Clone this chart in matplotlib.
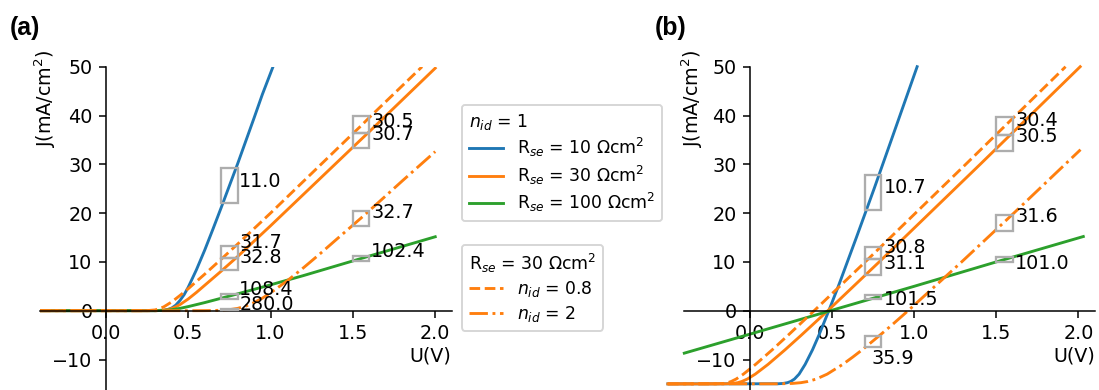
import matplotlib
matplotlib.use("Agg")
import matplotlib.pyplot as plt
from matplotlib.patches import Rectangle
from matplotlib.lines import Line2D

# ---------------- data ----------------
# Panel (a): dark J-V curves
Va_blue = [-0.4, 0.30, 0.35, 0.375, 0.40, 0.425, 0.45, 0.475, 0.50, 0.55, 0.60, 0.65, 0.70, 0.75, 0.80, 0.85, 0.90, 0.95, 1.015]
Ja_blue = [0.0, 0.01, 0.1, 0.235, 0.55, 1.15, 2.1, 3.27, 4.8, 8.4, 12.4, 16.7, 21.1, 25.6, 30.1, 34.8, 39.5, 44.3, 50.0]

Va_or = [-0.4, 0.25, 0.30, 0.35, 0.375, 0.40, 0.425, 0.45, 0.50, 0.55, 0.60, 0.70, 0.75, 0.80, 1.0, 1.5, 1.55, 1.6, 2.0]
Ja_or = [0.0, 0.005, 0.02, 0.1, 0.22, 0.45, 0.8, 1.25, 2.4, 3.75, 5.2, 8.1, 9.6, 11.1, 17.4, 33.5, 35.1, 36.7, 49.7]

Va_or08 = [-0.4, 0.20, 0.25, 0.30, 0.35, 0.40, 0.45, 0.50, 0.55, 0.60, 0.70, 0.75, 0.80, 1.0, 1.5, 1.55, 1.6, 1.92]
Ja_or08 = [0.0, 0.001, 0.016, 0.16, 0.76, 1.8, 3.12, 4.5, 6.0, 7.48, 10.54, 12.1, 13.65, 20.0, 36.3, 37.9, 39.6, 50.0]

Va_or2 = [-0.4, 0.55, 0.60, 0.65, 0.70, 0.75, 0.80, 0.85, 0.90, 0.95, 1.0, 1.1, 1.2, 1.3, 1.4, 1.55, 1.6, 1.8, 2.0]
Ja_or2 = [0.0, 0.005, 0.013, 0.034, 0.09, 0.21, 0.47, 0.95, 1.67, 2.56, 3.65, 6.1, 8.8, 11.65, 14.6, 19.0, 20.5, 26.6, 32.6]

Va_gr = [-0.4, 0.30, 0.35, 0.40, 0.45, 0.50, 0.60, 0.70, 0.75, 0.80, 1.0, 1.2, 1.5, 1.55, 1.6, 2.0]
Ja_gr = [0.0, 0.01, 0.055, 0.2, 0.48, 0.84, 1.66, 2.55, 3.0, 3.45, 5.3, 7.2, 10.2, 10.7, 11.2, 15.15]

# Panel (b): illuminated J-V curves
Vb_blue = [-0.5, 0.171, 0.203, 0.228, 0.248, 0.271, 0.299, 0.336, 0.381, 0.420, 0.480, 0.538, 0.648, 0.756, 0.861, 1.018]
Jb_blue = [-15.0, -14.97, -14.9, -14.75, -14.5, -14.0, -13.0, -11.0, -8.0, -5.0, 0.0, 5.0, 15.0, 25.0, 35.0, 50.0]

Vb_or = [-0.5, -0.146, -0.102, -0.074, -0.049, -0.016, 0.032, 0.110, 0.214, 0.313, 0.474, 0.787, 1.402, 2.011]
Jb_or = [-15.0, -14.98, -14.9, -14.75, -14.5, -14.0, -13.0, -11.0, -8.0, -5.0, 0.0, 10.0, 30.0, 50.0]

Vb_or08 = [-0.5, -0.194, -0.159, -0.135, -0.114, -0.084, -0.040, 0.034, 0.136, 0.233, 0.391, 0.702, 1.314, 1.922]
Jb_or08 = [-15.0, -14.98, -14.9, -14.75, -14.5, -14.0, -13.0, -11.0, -8.0, -5.0, 0.0, 10.0, 30.0, 50.0]

Vb_or2 = [-0.5, 0.173, 0.259, 0.310, 0.353, 0.404, 0.470, 0.565, 0.626, 0.684, 0.792, 0.862, 0.963, 1.289, 1.607, 2.013]
Jb_or2 = [-15.0, -14.98, -14.9, -14.75, -14.5, -14.0, -13.0, -11.0, -9.5, -8.0, -5.0, -3.0, 0.0, 10.0, 20.0, 33.0]

Vb_gr = [-0.40, 0.0, 0.49, 1.0, 1.5, 2.03]
Jb_gr = [-8.7, -4.8, 0.0, 5.0, 10.0, 15.2]

# Gray boxes: (V start, J bottom, J top) ; width 0.1 V
box_v0_a = [0.7, 0.7, 0.7, 0.7, 0.7, 1.5, 1.5, 1.5, 1.5]
box_j0_a = [22.0, 10.9, 8.3, 2.5, 0.05, 36.5, 33.3, 17.4, 10.2]
box_j1_a = [29.2, 13.3, 10.9, 3.4, 0.45, 39.8, 36.5, 20.5, 11.2]
lab_a = ["11.0", "31.7", "32.8", "108.4", "280.0", "30.5", "30.7", "32.7", "102.4"]
lab_x_a = [0.81, 0.81, 0.81, 0.81, 0.81, 1.61, 1.61, 1.61, 1.61]
lab_y_a = [25.3, 12.8, 9.7, 3.3, 0.2, 37.6, 35.0, 19.0, 11.0]

box_v0_b = [0.7, 0.7, 0.7, 0.7, 0.7, 1.5, 1.5, 1.5, 1.5]
box_j0_b = [20.6, 10.5, 7.3, 2.3, -7.4, 36.1, 32.7, 16.4, 9.9]
box_j1_b = [27.8, 13.0, 10.5, 3.2, -5.2, 39.6, 36.1, 19.6, 11.1]
lab_b = ["10.7", "30.8", "31.1", "101.5", "35.9", "30.4", "30.5", "31.6", "101.0"]
lab_x_b = [0.815, 0.815, 0.815, 0.815, 0.74, 1.615, 1.615, 1.615, 1.615]
lab_y_b = [24.1, 11.9, 8.5, 1.2, -10.9, 37.9, 34.5, 18.1, 8.5]

xticks = [0.0, 0.5, 1.0, 1.5, 2.0]
yticks = [-10, 0, 10, 20, 30, 40, 50]

BLUE, ORANGE, GREEN = "tab:blue", "tab:orange", "tab:green"

# ---------------- figure ----------------
W, H, DPI = 1099, 390, 138
fig = plt.figure(figsize=(W / DPI, H / DPI), dpi=DPI)

ax_a = fig.add_axes([40 / W, 0.0, 411.7 / W, 323.3 / H])
ax_b = fig.add_axes([684.3 / W, 0.0, 410.5 / W, 323.3 / H])


def style(ax, ylab_x):
    ax.set_xlim(-0.4, 2.1)
    ax.set_ylim(-16.25, 50)
    ax.spines["top"].set_visible(False)
    ax.spines["right"].set_visible(False)
    ax.spines["left"].set_position(("data", 0))
    ax.spines["bottom"].set_position(("data", 0))
    ax.set_xticks(xticks)
    ax.set_yticks(yticks)
    ax.set_xlabel("U(V)", loc="right")
    ax.xaxis.set_label_coords(1.0, 0.136)
    ax.set_ylabel("J(mA/cm$^2$)", loc="top")
    ax.yaxis.set_label_coords(ylab_x, 1.052)
    ax.patch.set_alpha(0)


def boxes(ax, v0, j0, j1, labs, lx, ly):
    for a, b, c in zip(v0, j0, j1):
        ax.add_patch(Rectangle((a, b), 0.1, c - b, fill=False,
                               edgecolor="0.68", lw=1.2, zorder=3, clip_on=False))
    for t, x, y in zip(labs, lx, ly):
        ax.text(x, y, t, fontsize=10, ha="left", va="baseline", zorder=4)


# panel a
ax_a.plot(Va_blue, Ja_blue, color=BLUE)
ax_a.plot(Va_or, Ja_or, color=ORANGE)
ax_a.plot(Va_gr, Ja_gr, color=GREEN)
ax_a.plot(Va_or08, Ja_or08, color=ORANGE, ls="--")
ax_a.plot(Va_or2, Ja_or2, color=ORANGE, ls="-.")
boxes(ax_a, box_v0_a, box_j0_a, box_j1_a, lab_a, lab_x_a, lab_y_a)
style(ax_a, 0.044)

# panel b
ax_b.plot(Vb_blue, Jb_blue, color=BLUE, clip_on=False)
ax_b.plot(Vb_or, Jb_or, color=ORANGE, clip_on=False)
ax_b.plot(Vb_gr, Jb_gr, color=GREEN, clip_on=False)
ax_b.plot(Vb_or08, Jb_or08, color=ORANGE, ls="--", clip_on=False)
ax_b.plot(Vb_or2, Jb_or2, color=ORANGE, ls="-.", clip_on=False)
boxes(ax_b, box_v0_b, box_j0_b, box_j1_b, lab_b, lab_x_b, lab_y_b)
style(ax_b, 0.050)

# legends
h1 = [Line2D([], [], color=BLUE), Line2D([], [], color=ORANGE), Line2D([], [], color=GREEN)]
l1 = ["R$_{se}$ = 10 Ωcm$^2$", "R$_{se}$ = 30 Ωcm$^2$", "R$_{se}$ = 100 Ωcm$^2$"]
leg1 = fig.legend(h1, l1, title="$n_{id}$ = 1", loc="upper left",
                  bbox_to_anchor=(462 / W, 1 - 105 / H), borderaxespad=0,
                  title_fontsize=9, fontsize=9, labelspacing=0.25)
leg1._legend_box.align = "left"

h2 = [Line2D([], [], color=ORANGE, ls="--"), Line2D([], [], color=ORANGE, ls="-.")]
l2 = ["$n_{id}$ = 0.8", "$n_{id}$ = 2"]
leg2 = fig.legend(h2, l2, title="R$_{se}$ = 30 Ωcm$^2$", loc="upper left",
                  bbox_to_anchor=(462 / W, 1 - 245 / H), borderaxespad=0,
                  title_fontsize=9, fontsize=9, labelspacing=0.25)
leg2._legend_box.align = "left"

fig.text(10 / W, 1 - 35 / H, "(a)", fontsize=13, fontweight="bold",
         family=["Liberation Sans", "DejaVu Sans"])
fig.text(655 / W, 1 - 35 / H, "(b)", fontsize=13, fontweight="bold",
         family=["Liberation Sans", "DejaVu Sans"])

fig.savefig("out.png", dpi=DPI)
